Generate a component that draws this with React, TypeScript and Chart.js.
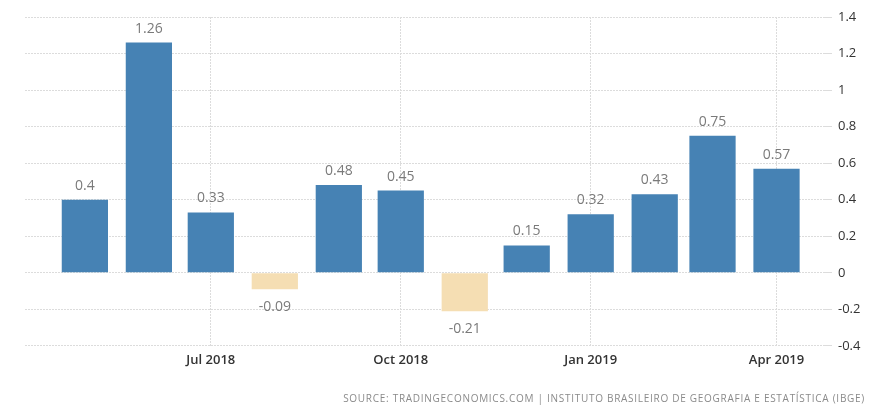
import React, { useEffect, useRef } from 'react';
import { Chart, registerables } from 'chart.js';

Chart.register(...registerables);

const categories = [
  'May 2018', 'Jun 2018', 'Jul 2018', 'Aug 2018', 'Sep 2018', 'Oct 2018',
  'Nov 2018', 'Dec 2018', 'Jan 2019', 'Feb 2019', 'Mar 2019', 'Apr 2019',
];
const values = [0.4, 1.26, 0.33, -0.09, 0.48, 0.45, -0.21, 0.15, 0.32, 0.43, 0.75, 0.57];
const tickLabels = ['Jul 2018', 'Oct 2018', 'Jan 2019', 'Apr 2019'];
const yTicks = [-0.4, -0.2, 0, 0.2, 0.4, 0.6, 0.8, 1, 1.2, 1.4];
const sourceText = 'SOURCE: TRADINGECONOMICS.COM | INSTITUTO BRASILEIRO DE GEOGRAFIA E ESTATÍSTICA (IBGE)';

const MONTHS = ['Jan', 'Feb', 'Mar', 'Apr', 'May', 'Jun', 'Jul', 'Aug', 'Sep', 'Oct', 'Nov', 'Dec'];
const dayOf = (label: string) => {
  const [m, y] = label.split(' ');
  return Date.UTC(Number(y), MONTHS.indexOf(m), 1) / 86400000;
};

const FONT = '"Open Sans", "DejaVu Sans", sans-serif';
const POS = '#4682B4';
const NEG = '#F5DEB3';

const valueLabels = {
  id: 'valueLabels',
  afterDatasetsDraw(chart: any) {
    const ctx = chart.ctx;
    const meta = chart.getDatasetMeta(0);
    ctx.save();
    ctx.font = `14px ${FONT}`;
    ctx.fillStyle = '#7a7a7a';
    ctx.textAlign = 'center';
    ctx.textBaseline = 'middle';
    meta.data.forEach((el: any, i: number) => {
      const v = values[i];
      const y = v >= 0 ? el.y - 14 : el.y + 18;
      ctx.fillText(String(v), el.x, y);
    });
    ctx.restore();
  },
};

export default function App() {
  const ref = useRef<HTMLCanvasElement | null>(null);
  useEffect(() => {
    if (!ref.current) return;
    const chart = new Chart(ref.current, {
      type: 'bar',
      data: {
        datasets: [
          {
            data: categories.map((c, i) => ({ x: dayOf(c), y: values[i] })),
            backgroundColor: values.map((v) => (v >= 0 ? POS : NEG)),
            borderWidth: 0,
            barPercentage: 0.8,
            categoryPercentage: 1,
          },
        ],
      },
      options: {
        animation: false,
        responsive: true,
        maintainAspectRatio: false,
        layout: { padding: { left: 25, top: 17, bottom: 33.5, right: 0 } },
        plugins: { legend: { display: false }, tooltip: { enabled: false } },
        scales: {
          x: {
            type: 'linear',
            offset: false,
            min: dayOf(categories[0]) - 29,
            max: dayOf(categories[categories.length - 1]) + 23,
            afterBuildTicks: (scale: any) => {
              scale.ticks = tickLabels.map((l) => ({ value: dayOf(l) }));
            },
            ticks: {
              autoSkip: false,
              maxRotation: 0,
              padding: 7,
              color: '#333',
              font: { family: FONT, size: 13, weight: '600' },
              callback: (v: any) => {
                const idx = tickLabels.findIndex((l) => dayOf(l) === v);
                return idx >= 0 ? tickLabels[idx] : '';
              },
            },
            grid: { color: '#dcdcdc', drawTicks: false, lineWidth: 1, offset: false },
            border: { display: false, dash: [2, 1] },
          },
          y: {
            position: 'right',
            min: -0.4,
            max: 1.4,
            afterBuildTicks: (scale: any) => {
              scale.ticks = yTicks.map((v) => ({ value: v }));
            },
            afterFit: (scale: any) => {
              scale.width = 49;
            },
            ticks: {
              padding: 6,
              color: '#333',
              font: { family: FONT, size: 13 },
              callback: (v: any) => String(Math.round(Number(v) * 10) / 10),
            },
            grid: { color: '#dcdcdc', tickLength: 8, lineWidth: 1 },
            border: { display: false, dash: [2, 1] },
          },
        },
      },
      plugins: [valueLabels],
    } as any);
    return () => chart.destroy();
  }, []);

  return (
    <div style={{ position: 'absolute', left: 0, top: 0, width: 873, height: 409, background: '#fff' }}>
      <canvas ref={ref} />
      <div
        style={{
          position: 'absolute',
          right: 8,
          top: 391,
          fontFamily: FONT,
          fontSize: 10,
          letterSpacing: '0.72px',
          color: '#8a8a8a',
          whiteSpace: 'nowrap',
          lineHeight: '14px',
        }}
      >
        {sourceText}
      </div>
    </div>
  );
}
